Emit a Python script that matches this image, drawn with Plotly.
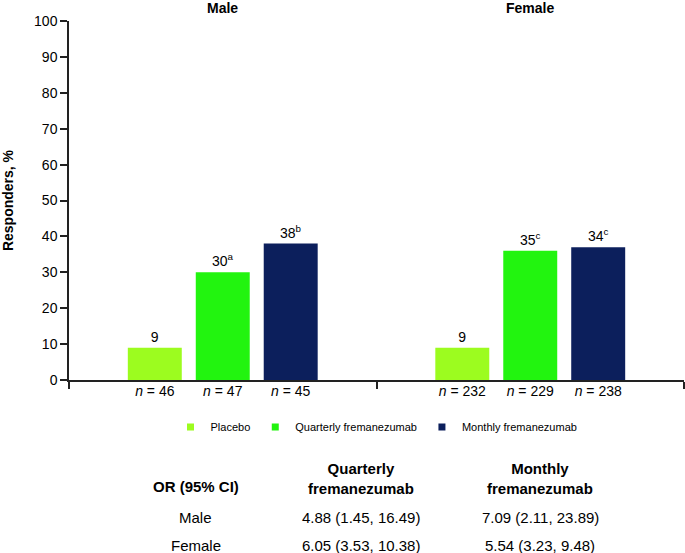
import plotly.graph_objects as go

# data
groups = ["Male", "Female"]
group_x = [0, 1]
series = ["Placebo", "Quarterly fremanezumab", "Monthly fremanezumab"]
colors = ["#9cfc1f", "#22f40f", "#0c1f5c"]
heights = {
    "Placebo": [9, 9],
    "Quarterly fremanezumab": [30, 36],
    "Monthly fremanezumab": [38, 37],
}
bar_labels = {
    "Placebo": ["9", "9"],
    "Quarterly fremanezumab": ["30<sup>a</sup>", "35<sup>c</sup>"],
    "Monthly fremanezumab": ["38<sup>b</sup>", "34<sup>c</sup>"],
}
n_values = {
    "Placebo": [46, 232],
    "Quarterly fremanezumab": [47, 229],
    "Monthly fremanezumab": [45, 238],
}
or_rows = ["Male", "Female"]
or_quarterly = ["4.88 (1.45, 16.49)", "6.05 (3.53, 10.38)"]
or_monthly = ["7.09 (2.11, 23.89)", "5.54 (3.23, 9.48)"]

FONT = "Liberation Sans, Arial, sans-serif"
AX = "#222222"
bargap = 0.337
slot = (1 - bargap) / len(series)

fig = go.Figure()
for s, c in zip(series, colors):
    fig.add_trace(go.Bar(
        x=group_x, y=heights[s], name=s, marker_color=c, marker_line_width=0,
        text=bar_labels[s], textposition="outside", textangle=0,
        textfont=dict(size=14, color="black", family=FONT),
        cliponaxis=False, showlegend=False))
    # small square legend entry
    fig.add_trace(go.Scatter(
        x=[None], y=[None], mode="markers", name=s,
        marker=dict(symbol="square", size=7, color=c)))

# n labels under each bar
tickvals, ticktext = [], []
for i, s in enumerate(series):
    for g, n in zip(group_x, n_values[s]):
        tickvals.append(g + (i - 1) * slot)
        ticktext.append("<i>n</i> = %d" % n)

bounds = [g - 0.5 for g in group_x] + [group_x[-1] + 0.5]

fig.update_layout(
    width=685, height=553,
    margin=dict(l=69, r=1, t=21, b=173),
    paper_bgcolor="white", plot_bgcolor="white",
    barmode="group", bargap=bargap, bargroupgap=0.206,
    font=dict(family=FONT, size=14, color="black"),
    legend=dict(orientation="h", x=0.5, xanchor="center", y=-0.131, yanchor="middle",
                font=dict(size=11), itemwidth=30, tracegroupgap=0),
)
fig.update_xaxes(
    range=[-0.5, 1.5], showgrid=False, zeroline=False, automargin=False,
    showline=True, linecolor=AX, linewidth=1.5,
    tickmode="array", tickvals=tickvals, ticktext=ticktext, ticks="",
    tickfont=dict(size=14), ticklabelstandoff=-3,
    minor=dict(tickmode="array", tickvals=bounds, ticks="outside", ticklen=7,
               tickwidth=1.5, tickcolor=AX, showgrid=False),
)
fig.update_yaxes(
    range=[0, 100], dtick=10, showgrid=False, zeroline=False, automargin=False,
    showline=True, linecolor=AX, linewidth=1.5,
    ticks="outside", ticklen=7, tickwidth=1.5, tickcolor=AX,
    tickfont=dict(size=14),
    title=dict(text="<b>Responders, %</b>", font=dict(size=14), standoff=20),
)

# group titles on top
for g, name in zip(group_x, groups):
    fig.add_annotation(x=g, y=1, xref="x", yref="paper", text="<b>%s</b>" % name,
                       showarrow=False, xanchor="center", yanchor="bottom", yshift=3,
                       font=dict(size=14))

# odds ratio table below the legend
col_x = [0.2065, 0.4748, 0.766]
head_y, row_y = -0.273, [-0.384, -0.460]


def cell(x, y, text):
    fig.add_annotation(x=x, y=y, xref="paper", yref="paper", text=text,
                       showarrow=False, xanchor="center", yanchor="middle",
                       font=dict(size=15))


cell(col_x[0], -0.298, "<b>OR (95% CI)</b>")
cell(col_x[1], head_y, "<b>Quarterly<br>fremanezumab</b>")
cell(col_x[2], head_y, "<b>Monthly<br>fremanezumab</b>")
for r, q, m, yy in zip(or_rows, or_quarterly, or_monthly, row_y):
    for xx, t in zip(col_x, [r, q, m]):
        cell(xx, yy, t)

# drop the browser's default body margin so the figure sits at the page corner
fig.write_html("out.html", config={"displayModeBar": False},
               post_script="document.body.style.margin='0';")
